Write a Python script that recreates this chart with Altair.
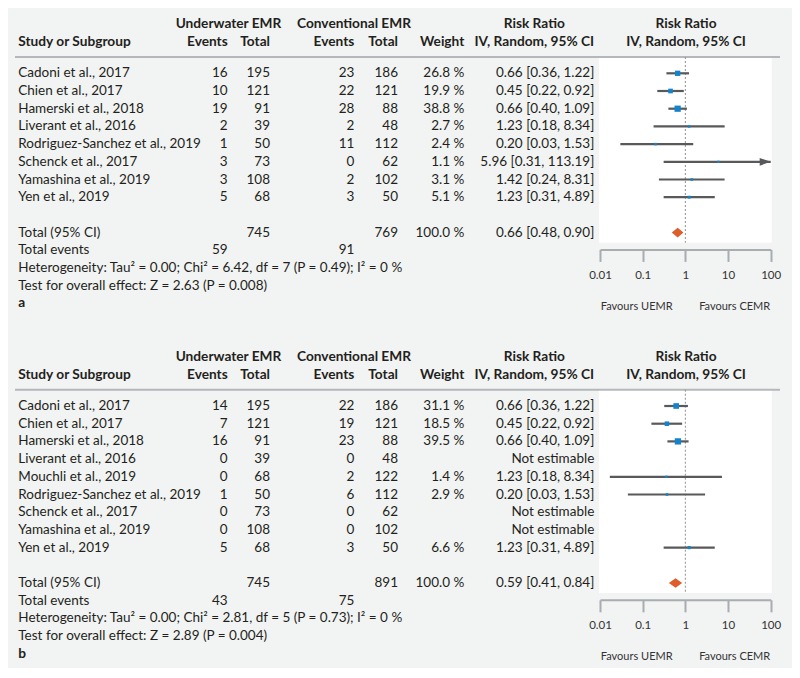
import altair as alt
import pandas as pd

# ---------------- data ----------------
studies_a = ["Cadoni et al., 2017", "Chien et al., 2017", "Hamerski et al., 2018",
             "Liverant et al., 2016", "Rodriguez-Sanchez et al., 2019", "Schenck et al., 2017",
             "Yamashina et al., 2019", "Yen et al., 2019"]
ue_events_a = [16, 10, 19, 2, 1, 3, 3, 5]
ue_total_a = [195, 121, 91, 39, 50, 73, 108, 68]
ce_events_a = [23, 22, 28, 2, 11, 0, 2, 3]
ce_total_a = [186, 121, 88, 48, 112, 62, 102, 50]
weight_a = [26.8, 19.9, 38.8, 2.7, 2.4, 1.1, 3.1, 5.1]
rr_a = [0.66, 0.45, 0.66, 1.23, 0.20, 5.96, 1.42, 1.23]
lo_a = [0.36, 0.22, 0.40, 0.18, 0.03, 0.31, 0.24, 0.31]
hi_a = [1.22, 0.92, 1.09, 8.34, 1.53, 113.19, 8.31, 4.89]
total_a = {"ut": "745", "ct": "769", "weight": "100.0 %", "ci": "0.66 [0.48, 0.90]",
           "ue_ev": "59", "ce_ev": "91", "rr": 0.66, "lo": 0.48, "hi": 0.90}
het_a = "Heterogeneity: Tau² = 0.00; Chi² = 6.42, df = 7 (P = 0.49); I² = 0 %"
test_a = "Test for overall effect: Z = 2.63 (P = 0.008)"

studies_b = ["Cadoni et al., 2017", "Chien et al., 2017", "Hamerski et al., 2018",
             "Liverant et al., 2016", "Mouchli et al., 2019", "Rodriguez-Sanchez et al., 2019",
             "Schenck et al., 2017", "Yamashina et al., 2019", "Yen et al., 2019"]
ue_events_b = [14, 7, 16, 0, 0, 1, 0, 0, 5]
ue_total_b = [195, 121, 91, 39, 68, 50, 73, 108, 68]
ce_events_b = [22, 19, 23, 0, 2, 6, 0, 0, 3]
ce_total_b = [186, 121, 88, 48, 122, 112, 62, 102, 50]
weight_txt_b = ["31.1 %", "18.5 %", "39.5 %", "", "1.4 %", "2.9 %", "", "", "6.6 %"]
ci_txt_b = ["0.66 [0.36, 1.22]", "0.45 [0.22, 0.92]", "0.66 [0.40, 1.09]", "Not estimable",
            "1.23 [0.18, 8.34]", "0.20 [0.03, 1.53]", "Not estimable", "Not estimable",
            "1.23 [0.31, 4.89]"]
# values as drawn in panel b's forest plot
weight_b = [31.1, 18.5, 39.5, None, 1.4, 2.9, None, None, 6.6]
rr_b = [0.61, 0.37, 0.67, None, 0.36, 0.37, None, None, 1.23]
lo_b = [0.32, 0.16, 0.38, None, 0.017, 0.045, None, None, 0.31]
hi_b = [1.15, 0.84, 1.19, None, 7.2, 2.9, None, None, 4.89]
total_b = {"ut": "745", "ct": "891", "weight": "100.0 %", "ci": "0.59 [0.41, 0.84]",
           "ue_ev": "43", "ce_ev": "75", "rr": 0.59, "lo": 0.41, "hi": 0.84}
het_b = "Heterogeneity: Tau² = 0.00; Chi² = 2.81, df = 5 (P = 0.73); I² = 0 %"
test_b = "Test for overall effect: Z = 2.89 (P = 0.004)"

# ---------------- style ----------------
FONT = "Lato"
FS = 13.5
FSB = 13.7
TEXT = "#231f20"
LINE = "#58595b"
BLUE = "#1384cc"
ORANGE = "#de5e2b"
BG = "#f2f3f3"
W, H = 784, 330
STEP = 17.7

COLS = [("study", 10.3, "left"), ("ue", 219.7, "right"), ("ut", 262, "right"),
        ("ce", 346.3, "right"), ("ct", 390, "right"), ("weight", 456.3, "right"),
        ("ci", 586.3, "right")]


def fmt(v):
    return "" if v is None else (f"{v:.1f} %" if isinstance(v, float) else str(v))


def panel(studies, ue, ut, ce, ct, wtxt, citxt, w, rr, lo, hi, tot, het, test, letter, y0):
    n = len(studies)
    trow = n + 1
    rmin = -y0 / STEP
    rmax = (H - y0) / STEP
    yscale = alt.Scale(domain=[rmin, rmax], range=[0, H], zero=False, nice=False)
    xscale = alt.Scale(type="log", domain=[0.01, 100], range=[592, 762.7], nice=False)
    axis_y = y0 + STEP * (trow + 0.95)
    xaxis = alt.Axis(values=[0.01, 0.1, 1, 10, 100], format="~g", orient="bottom",
                     offset=axis_y - H, domainColor="#a9adb0", domainWidth=2,
                     tickColor="#a9adb0", tickWidth=2, tickSize=12, labelPadding=8,
                     labelFont=FONT, labelFontSize=11.5, labelColor="#333333",
                     grid=False, title=None, labelFlush=False)

    def Y(field="row"):
        return alt.Y(f"{field}:Q", scale=yscale, axis=None)

    def X(field):
        return alt.X(f"{field}:Q", scale=xscale, axis=xaxis)

    rows = []
    for i in range(n):
        rows.append({"row": i, "study": studies[i], "ue": str(ue[i]), "ut": str(ut[i]),
                     "ce": str(ce[i]), "ct": str(ct[i]), "weight": wtxt[i], "ci": citxt[i]})
    rows.append({"row": trow, "study": "Total (95% CI)", "ue": "", "ut": tot["ut"],
                 "ce": "", "ct": tot["ct"], "weight": tot["weight"], "ci": tot["ci"]})
    rows.append({"row": trow + 1, "study": "Total events", "ue": tot["ue_ev"], "ut": "",
                 "ce": tot["ce_ev"], "ct": "", "weight": "", "ci": ""})
    rows.append({"row": trow + 2, "study": het, "ue": "", "ut": "", "ce": "", "ct": "",
                 "weight": "", "ci": ""})
    rows.append({"row": trow + 3, "study": test, "ue": "", "ut": "", "ce": "", "ct": "",
                 "weight": "", "ci": ""})
    table = pd.DataFrame(rows)

    layers = []
    top = -0.92
    bottom = trow + 0.57
    # white forest area
    layers.append(alt.Chart(alt.Data(values=[{"t": top, "b": bottom}])).mark_rect(color="white")
                  .encode(x=alt.value(591), x2=alt.value(763.7), y=Y("t"), y2="b:Q"))
    # header line
    layers.append(alt.Chart(alt.Data(values=[{"r": top}])).mark_rule(color="#b4b8bb", strokeWidth=2)
                  .encode(x=alt.value(7), x2=alt.value(772), y=Y("r")))
    # headers
    h1, h2 = -2.76, -1.75
    headers = [
        (h1, "Underwater EMR", 220.5, "center"), (h1, "Conventional EMR", 346, "center"),
        (h1, "Risk Ratio", 526.3, "center"), (h1, "Risk Ratio", 678, "center"),
        (h2, "Study or Subgroup", 10.3, "left"), (h2, "Events", 219.7, "right"),
        (h2, "Total", 262, "right"), (h2, "Events", 346.3, "right"), (h2, "Total", 390, "right"),
        (h2, "Weight", 456.3, "right"), (h2, "IV, Random, 95% CI", 526.3, "center"),
        (h2, "IV, Random, 95% CI", 678, "center"),
    ]
    for r, t, x, al in headers:
        layers.append(alt.Chart(alt.Data(values=[{"row": r, "t": t}]))
                      .mark_text(align=al, baseline="middle", font=FONT, fontSize=FSB,
                                 fontWeight="bold", color=TEXT)
                      .encode(x=alt.value(x), y=Y(), text="t:N"))
    # table columns
    for field, x, al in COLS:
        layers.append(alt.Chart(table).mark_text(align=al, baseline="middle", font=FONT,
                                                 fontSize=FS, color=TEXT)
                      .encode(x=alt.value(x), y=Y(), text=f"{field}:N"))
    # panel letter
    layers.append(alt.Chart(alt.Data(values=[{"row": trow + 4, "t": letter}]))
                  .mark_text(align="left", baseline="middle", font=FONT, fontSize=FSB,
                             fontWeight="bold", color=TEXT)
                  .encode(x=alt.value(10.3), y=Y(), text="t:N"))
    # favours labels
    for t, x in [("Favours UEMR", 628.7), ("Favours CEMR", 726.7)]:
        layers.append(alt.Chart(alt.Data(values=[{"row": trow + 4.2, "t": t}]))
                      .mark_text(align="center", baseline="middle", font=FONT, fontSize=11,
                                 color="#333333")
                      .encode(x=alt.value(x), y=Y(), text="t:N"))

    # forest data
    frows = []
    for i in range(n):
        if rr[i] is None:
            continue
        frows.append({"row": i, "rr": rr[i], "lo": lo[i], "hi": min(hi[i], 100),
                      "over": hi[i] > 100, "w": w[i]})
    fdf = pd.DataFrame(frows)
    # reference line at 1
    layers.append(alt.Chart(alt.Data(values=[{"v": 1, "t": top, "b": bottom}]))
                  .mark_rule(color="#8f8f8f", strokeDash=[2, 2], strokeWidth=1)
                  .encode(x=X("v"), y=Y("t"), y2="b:Q"))
    layers.append(alt.Chart(fdf).mark_rule(color=LINE, strokeWidth=2.2)
                  .encode(x=X("lo"), x2="hi:Q", y=Y()))
    over = fdf[fdf["over"]]
    if len(over):
        layers.append(alt.Chart(over).mark_point(shape="M-1,-0.7L1,0L-1,0.7Z", filled=True,
                                                 size=121, color=LINE, opacity=1, xOffset=-5.5)
                      .encode(x=X("hi"), y=Y()))
    layers.append(alt.Chart(fdf).mark_square(color=BLUE, opacity=1)
                  .encode(x=X("rr"), y=Y(),
                          size=alt.Size("w:Q", scale=alt.Scale(domain=[0, 40], range=[4, 40]),
                                        legend=None)))
    # summary diamond
    dia = pd.DataFrame([
        {"x": tot["lo"], "y1": trow, "y2": trow},
        {"x": tot["rr"], "y1": trow - 0.27, "y2": trow + 0.27},
        {"x": tot["hi"], "y1": trow, "y2": trow},
    ])
    layers.append(alt.Chart(dia).mark_area(color=ORANGE, orient="vertical", opacity=1)
                  .encode(x=X("x"), y=Y("y1"), y2="y2:Q"))

    return alt.layer(*layers).properties(width=W, height=H)


pa = panel(studies_a, ue_events_a, ue_total_a, ce_events_a, ce_total_a,
           [fmt(v) for v in weight_a],
           [f"{r:.2f} [{l:.2f}, {h:.2f}]" for r, l, h in zip(rr_a, lo_a, hi_a)],
           weight_a, rr_a, lo_a, hi_a, total_a, het_a, test_a, "a", 65.3)
pb = panel(studies_b, ue_events_b, ue_total_b, ce_events_b, ce_total_b,
           weight_txt_b, ci_txt_b, weight_b, rr_b, lo_b, hi_b, total_b, het_b, test_b, "b", 68)

chart = (alt.vconcat(pa, pb, spacing=0)
         .properties(padding=0, background=BG)
         .configure_view(stroke=None))

chart.save("out.html", embed_options={"renderer": "svg", "actions": False})
